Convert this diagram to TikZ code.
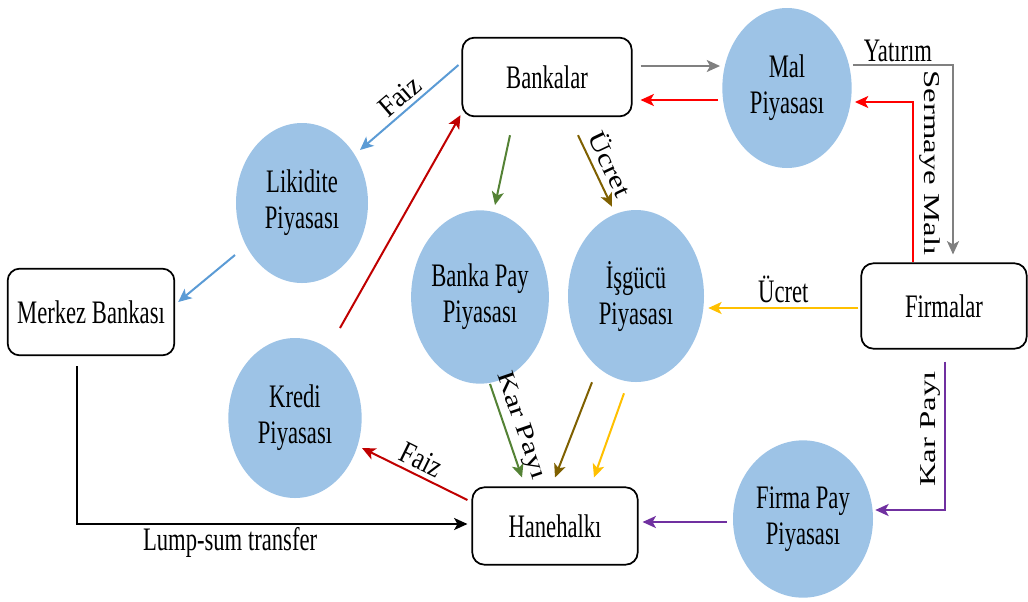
\documentclass[tikz,border=0pt]{standalone}
\usepackage{graphicx}
\usepackage{fontspec}
\setmainfont{Liberation Serif}
\usetikzlibrary{arrows.meta,shapes.geometric,calc}

\definecolor{mktblue}{RGB}{157,195,230}
\definecolor{faizblue}{RGB}{91,155,213}
\definecolor{darkred}{RGB}{192,0,0}
\definecolor{flowgreen}{RGB}{84,130,53}
\definecolor{flowbrown}{RGB}{127,96,0}
\definecolor{flowyellow}{RGB}{255,192,0}
\definecolor{flowpurple}{RGB}{112,48,160}
\definecolor{flowgray}{RGB}{128,128,128}

% narrow text, as in the original figure
\newcommand{\sqz}[1]{\scalebox{0.69}[1]{#1}}

\begin{document}
\begin{tikzpicture}[
  x=0.75pt, y=-0.75pt,
  every node/.style={font=\fontsize{24.6}{27}\selectfont, text=black},
  box/.style={draw, rounded corners=9pt, line width=1.3pt, align=center},
  market/.style={ellipse, fill=mktblue, align=center, inner sep=0pt},
  arrow/.style={-{Stealth[length=10pt,width=9pt,inset=2.5pt]}, line width=1.5pt}
]
\useasboundingbox (0,0) rectangle (1028,601);

% kurumlar
\node[box, minimum width=127pt, minimum height=59pt] (bank) at (547,77) {\sqz{Bankalar}};
\node[box, minimum width=125pt, minimum height=65pt] (mb) at (91,312) {\sqz{Merkez Bankası}};
\node[box, minimum width=124pt, minimum height=64pt] (firm) at (944,306) {\sqz{Firmalar}};
\node[box, minimum width=124pt, minimum height=58pt] (hane) at (555,526) {\sqz{Hanehalkı}};

% piyasalar
\node[market, minimum width=97pt, minimum height=120pt] (mal) at (787,88) {\sqz{Mal}\\\sqz{Piyasası}};
\node[market, minimum width=99pt, minimum height=120pt] (lik) at (302,203) {\sqz{Likidite}\\\sqz{Piyasası}};
\node[market, minimum width=99pt, minimum height=130pt] (bpay) at (480,297) {\sqz{Banka Pay}\\\sqz{Piyasası}};
\node[market, minimum width=102pt, minimum height=129pt] (isg) at (636,296) {\sqz{İşgücü}\\\sqz{Piyasası}};
\node[market, minimum width=100pt, minimum height=120pt] (kredi) at (295,418) {\sqz{Kredi}\\\sqz{Piyasası}};
\node[market, minimum width=105pt, minimum height=118pt] (fpay) at (803,519) {\sqz{Firma Pay}\\\sqz{Piyasası}};

% akimlar
\draw[arrow, flowgray] ($(bank.east)+(8,-11)$) -- ($(mal.west)+(-2,-22)$);
\draw[arrow, red] ($(mal.west)+(-4,12)$) -- ($(bank.east)+(8,23)$);
\draw[arrow, flowgray] ($(mal.east)+(1,-23)$) -| node[pos=0.225, above, inner sep=2pt] {\sqz{Yatırım}} ($(firm.north)+(9,-8)$);
\draw[arrow, red] ($(firm.north)+(-31,0)$) |- node[pos=0.31, anchor=south, rotate=-90, inner sep=4.5pt] {\scalebox{1}[0.69]{Sermaye Malı}} ($(mal.east)+(3,14)$);
\draw[arrow, faizblue] ($(bank.west)+(-3,-12)$) -- node[above, sloped, inner sep=3pt] {\scalebox{0.83}[0.88]{Faiz}} ($(lik.center)+(58,-53)$);
\draw[arrow, faizblue] ($(lik.center)+(-67,52)$) -- ($(mb.east)+(3,-10)$);
\draw[arrow, darkred] ($(kredi.center)+(45,-90)$) -- ($(bank.south west)+(-1,-2)$);
\draw[arrow, flowgreen] ($(bank.south)+(-37,18)$) -- ($(bpay.north)+(15,-5)$);
\draw[arrow, flowbrown] ($(bank.south)+(31,18)$) -- node[above, sloped, inner sep=5pt] {\scalebox{0.95}[0.76]{Ücret}} ($(isg.north)+(-24,-3)$);
\draw[arrow, flowyellow] ($(firm.west)+(-2,2)$) -- node[above, inner sep=3pt] {\sqz{Ücret}} ($(isg.east)+(4,12)$);
\draw[arrow, flowgreen] ($(bpay.south)+(10,0)$) -- node[above, sloped, inner sep=3pt] {\scalebox{0.97}[0.73]{Kar Payı}} ($(hane.north)+(-33,-9)$);
\draw[arrow, flowbrown] ($(isg.south)+(-44,0)$) -- ($(hane.north)+(0,-9)$);
\draw[arrow, flowyellow] ($(isg.south)+(-12,11)$) -- ($(hane.north)+(39,-9)$);
\draw[arrow, darkred] ($(hane.west)+(-4,-26)$) -- node[above, sloped, inner sep=3pt] {\scalebox{0.76}[0.95]{Faiz}} ($(kredi.center)+(67,30)$);
\draw[arrow, black] ($(mb.south)+(-14,10)$) |- node[pos=0.696, below, inner sep=2pt] {\sqz{Lump-sum transfer}} ($(hane.west)+(-4,-2)$);
\draw[arrow, flowpurple] ($(firm.south)+(1,12)$) |- node[pos=0.227, anchor=south, rotate=90, inner sep=3pt] {\scalebox{1}[0.69]{Kar Payı}} ($(fpay.east)+(2,-9)$);
\draw[arrow, flowpurple] ($(fpay.west)+(-6,3)$) -- ($(hane.east)+(4,-4)$);
\end{tikzpicture}
\end{document}
